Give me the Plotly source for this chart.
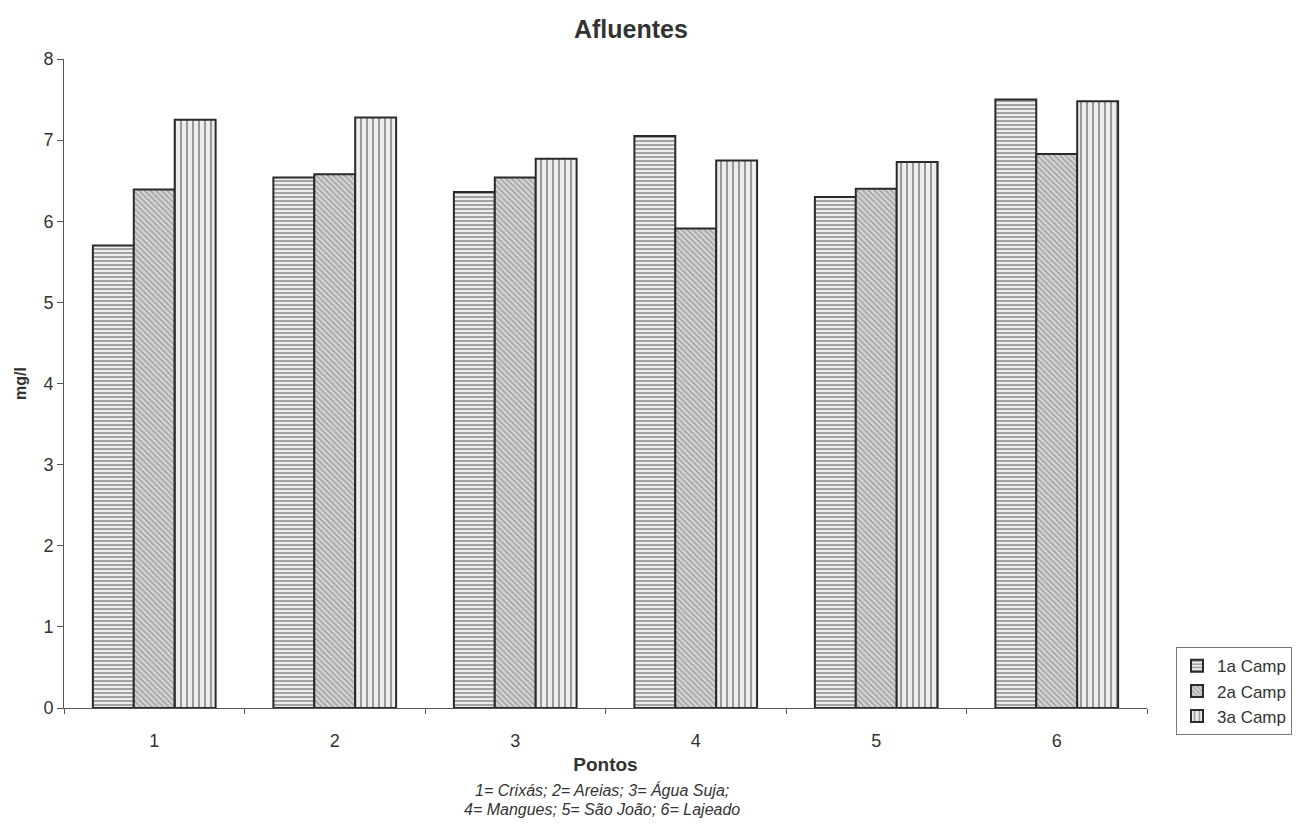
import plotly.graph_objects as go

# Sampling points and campaign readings (mg/l)
pontos = ["1", "2", "3", "4", "5", "6"]
camp_names = ["1a Camp", "2a Camp", "3a Camp"]
camp1 = [5.70, 6.54, 6.36, 7.05, 6.30, 7.50]
camp2 = [6.39, 6.58, 6.54, 5.91, 6.40, 6.83]
camp3 = [7.25, 7.28, 6.77, 6.75, 6.73, 7.48]
y_ticks = [0, 1, 2, 3, 4, 5, 6, 7, 8]

FONT = "Arial, Liberation Sans, sans-serif"
INK = "#333333"

patterns = [
    dict(shape="-", fgcolor="#444444", bgcolor="#eeeeee", size=4, solidity=0.45),
    dict(shape="\\", fgcolor="#666666", bgcolor="#d4d4d4", size=4, solidity=0.35),
    dict(shape="|", fgcolor="#444444", bgcolor="#eeeeee", size=6, solidity=0.35),
]

fig = go.Figure()
for name, vals, pat in zip(camp_names, [camp1, camp2, camp3], patterns):
    fig.add_trace(go.Bar(
        x=pontos, y=vals, name=name,
        marker=dict(color="#eeeeee", pattern=pat,
                    line=dict(color="#2a2a2a", width=2)),
    ))

fig.update_layout(
    width=1300, height=829,
    paper_bgcolor="white", plot_bgcolor="white",
    margin=dict(l=64, r=153, t=59, b=121, autoexpand=False),
    barmode="group", bargap=0.32, bargroupgap=0,
    font=dict(family=FONT, color=INK, size=18),
    title=dict(text="<b>Afluentes</b>", xref="paper", x=0.5235, xanchor="center",
               y=1 - 29 / 829, yanchor="middle",
               font=dict(family=FONT, size=25, color=INK)),
    showlegend=True,
    legend=dict(x=(1176 - 64) / 1083, xanchor="left", y=-0.042, yanchor="bottom",
                bordercolor="#777777", borderwidth=1, bgcolor="white",
                font=dict(family=FONT, size=17, color=INK),
                tracegroupgap=0, itemwidth=30),
    xaxis=dict(
        type="category", showgrid=False, showline=True,
        linecolor="#555555", linewidth=1,
        ticks="outside", tickson="boundaries", ticklen=5,
        tickcolor="#555555", ticklabelstandoff=16,
        tickfont=dict(family=FONT, size=18, color=INK),
        title=dict(text="<b>Pontos</b>", standoff=8,
                   font=dict(family=FONT, size=19, color=INK)),
    ),
    yaxis=dict(
        range=[0, 8], tickvals=y_ticks, showgrid=False, zeroline=False,
        showline=True, linecolor="#555555", linewidth=1,
        ticks="outside", ticklen=6, tickcolor="#555555",
        tickfont=dict(family=FONT, size=18, color=INK),
        title=dict(text="<b>mg/l</b>", standoff=12,
                   font=dict(family=FONT, size=16, color=INK)),
    ),
)

fig.add_annotation(
    text="<i>1= Crixás; 2= Areias; 3= Água Suja;</i>",
    xref="paper", yref="paper", x=(602 - 64) / 1083, y=-0.126,
    xanchor="center", yanchor="middle", showarrow=False,
    font=dict(family=FONT, size=16, color=INK),
)
fig.add_annotation(
    text="<i>4= Mangues; 5= São João; 6= Lajeado</i>",
    xref="paper", yref="paper", x=(602 - 64) / 1083, y=-0.157,
    xanchor="center", yanchor="middle", showarrow=False,
    font=dict(family=FONT, size=16, color=INK),
)

fig.write_html("out.html")
